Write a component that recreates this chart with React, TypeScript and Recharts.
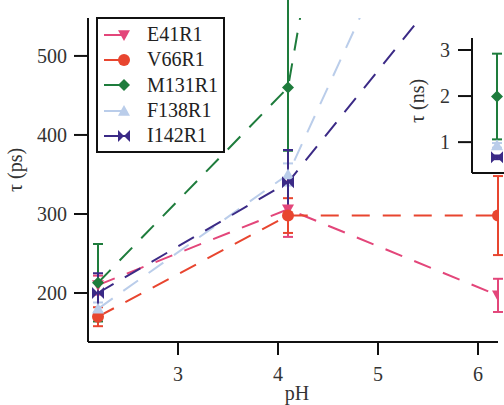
import React from 'react';
import { LineChart, Line, XAxis, YAxis, ErrorBar, Legend, Label } from 'recharts';

// pH of each measurement
const phValues = [2.2, 4.1, 6.2];

// lifetimes in ps, with error bars ([low, high] where they differ)
const e41 = [210, 306, 197];
const e41Err = [12, 35, 21];
const v66 = [170, 298, 298];
const v66Err = [12, 22, 50];
const m131 = [213, 460, 1990];
const m131Err: [number, number][] = [[49, 49], [80, 170], [930, 930]];
const f138 = [180, 350, 930];
const f138Err = [8, 14, 50];
const i142 = [200, 340, 670];
const i142Err = [25, 41, 40];

const mainTicksX = [3, 4, 5, 6];
const mainTicksY = [200, 300, 400, 500];
const insetTicksY = [1, 2, 3];

const FONT = '"Liberation Serif", "Times New Roman", serif';

type Shape = 'triDown' | 'circle' | 'diamond' | 'triUp' | 'bowtie';
type Err = number | [number, number];

const series: { key: string; name: string; color: string; shape: Shape; values: number[]; err: Err[] }[] = [
  { key: 'e41', name: 'E41R1', color: '#E3467A', shape: 'triDown', values: e41, err: e41Err },
  { key: 'v66', name: 'V66R1', color: '#E8452F', shape: 'circle', values: v66, err: v66Err },
  { key: 'm131', name: 'M131R1', color: '#1E7C3C', shape: 'diamond', values: m131, err: m131Err },
  { key: 'f138', name: 'F138R1', color: '#BACDEA', shape: 'triUp', values: f138, err: f138Err },
  { key: 'i142', name: 'I142R1', color: '#3B2A86', shape: 'bowtie', values: i142, err: i142Err },
];

const mainData = phValues.map((ph, i) => {
  const row: Record<string, any> = { ph };
  series.forEach((s) => {
    row[s.key] = s.values[i];
    row[s.key + 'Err'] = s.err[i];
  });
  return row;
});

const toNs = (e: Err): Err => (Array.isArray(e) ? [e[0] / 1000, e[1] / 1000] : e / 1000);

// inset: the pH 6.2 points of the slow series, in ns
const insetKeys = ['m131', 'f138', 'i142'];
const last = phValues.length - 1;
const insetData = [
  insetKeys.reduce(
    (row, k) => {
      const s = series.find((x) => x.key === k)!;
      row[k] = s.values[last] / 1000;
      row[k + 'Err'] = toNs(s.err[last]);
      return row;
    },
    { ph: phValues[last] } as Record<string, any>
  ),
];

function Marker({ shape, cx, cy, color }: { shape: Shape; cx: number; cy: number; color: string }) {
  const s = 6;
  switch (shape) {
    case 'triDown':
      return <polygon points={`${cx - s},${cy - s * 0.8} ${cx + s},${cy - s * 0.8} ${cx},${cy + s}`} fill={color} />;
    case 'triUp':
      return <polygon points={`${cx - s},${cy + s * 0.8} ${cx + s},${cy + s * 0.8} ${cx},${cy - s}`} fill={color} />;
    case 'circle':
      return <circle cx={cx} cy={cy} r={s} fill={color} />;
    case 'diamond':
      return <polygon points={`${cx},${cy - s} ${cx + s},${cy} ${cx},${cy + s} ${cx - s},${cy}`} fill={color} />;
    default:
      return (
        <g fill={color}>
          <polygon points={`${cx - s},${cy - s} ${cx},${cy} ${cx - s},${cy + s}`} />
          <polygon points={`${cx + s},${cy - s} ${cx},${cy} ${cx + s},${cy + s}`} />
        </g>
      );
  }
}

const dotFor = (shape: Shape, color: string, key: string) => (props: any) => {
  const { cx, cy, index } = props;
  if (cx == null || cy == null) return <g key={`${key}-${index}`} />;
  return (
    <g key={`${key}-${index}`}>
      <Marker shape={shape} cx={cx} cy={cy} color={color} />
    </g>
  );
};

function LegendBox() {
  return (
    <div
      style={{
        boxSizing: 'border-box',
        width: 129,
        border: '2px solid #111',
        background: '#fff',
        padding: '3px 0 3px 6px',
        fontFamily: FONT,
        fontSize: 20,
        color: '#222',
      }}
    >
      {series.map((s) => (
        <div key={s.key} style={{ display: 'flex', alignItems: 'center', height: 25.3 }}>
          <svg width={34} height={20} style={{ display: 'block' }}>
            <line x1={0} y1={10} x2={22} y2={10} stroke={s.color} strokeWidth={2} />
            <Marker shape={s.shape} cx={20} cy={10} color={s.color} />
          </svg>
          <span style={{ marginLeft: 9 }}>{s.name}</span>
        </div>
      ))}
    </div>
  );
}

const axisStroke = { stroke: '#111', strokeWidth: 2 };
const tickStyle = { fontSize: 20, fill: '#333', fontFamily: FONT };

export default function App() {
  return (
    <div style={{ position: 'fixed', left: 0, top: 0, width: 504, height: 405, overflow: 'hidden', background: '#fff' }}>
      <LineChart width={504} height={405} data={mainData} margin={{ top: 18, right: 6, bottom: 0, left: 0 }} style={{ fontFamily: FONT }}>
        <XAxis
          type="number"
          dataKey="ph"
          domain={[2.1, 6.2]}
          ticks={mainTicksX}
          allowDataOverflow
          height={63}
          tickSize={13}
          tickMargin={12}
          axisLine={axisStroke}
          tickLine={axisStroke}
          tick={tickStyle}
        >
          <Label value="pH" position="insideBottom" offset={5} dx={4} style={{ fontSize: 20, fill: '#333', fontFamily: FONT }} />
        </XAxis>
        <YAxis
          type="number"
          domain={[138, 548]}
          ticks={mainTicksY}
          allowDataOverflow
          width={88}
          tickSize={14}
          tickMargin={7}
          axisLine={axisStroke}
          tickLine={axisStroke}
          tick={tickStyle}
        >
          <Label
            content={() => (
              <text x={15} y={170} transform="rotate(-90 15 170)" textAnchor="middle" dominantBaseline="central" fontSize={20} fill="#333" fontFamily={FONT}>
                τ (ps)
              </text>
            )}
          />
        </YAxis>
        <Legend
          layout="vertical"
          align="center"
          verticalAlign="middle"
          wrapperStyle={{ left: 96, top: 17, width: 129 }}
          content={() => <LegendBox />}
        />
        {series.map((s) => (
          <Line
            key={s.key}
            dataKey={s.key}
            name={s.name}
            stroke={s.color}
            strokeWidth={2}
            strokeDasharray="18 13"
            dot={dotFor(s.shape, s.color, s.key)}
            activeDot={false}
            isAnimationActive={false}
          >
            <ErrorBar dataKey={s.key + 'Err'} direction="y" width={5} stroke={s.color} strokeWidth={2} />
          </Line>
        ))}
      </LineChart>

      <div style={{ position: 'absolute', left: 472, top: 38, width: 40, height: 135, background: '#fff' }} />
      <div style={{ position: 'absolute', left: 400, top: 20 }}>
        <LineChart width={122} height={180} data={insetData} margin={{ top: 18, right: 0, bottom: 0, left: 0 }} style={{ fontFamily: FONT }}>
          <XAxis type="number" dataKey="ph" domain={[5.95, 6.45]} allowDataOverflow height={27} tick={false} tickLine={false} axisLine={axisStroke} />
          <YAxis
            type="number"
            domain={[0.33, 3.26]}
            ticks={insetTicksY}
            allowDataOverflow
            width={72}
            tickSize={14}
            tickMargin={8}
            axisLine={axisStroke}
            tickLine={axisStroke}
            tick={tickStyle}
          >
            <Label
              content={() => (
                <text x={17} y={81} transform="rotate(-90 17 81)" textAnchor="middle" dominantBaseline="central" fontSize={20} fill="#333" fontFamily={FONT}>
                  τ (ns)
                </text>
              )}
            />
          </YAxis>
          {series
            .filter((s) => insetKeys.includes(s.key))
            .map((s) => (
              <Line
                key={s.key}
                dataKey={s.key}
                stroke={s.color}
                strokeWidth={2}
                dot={dotFor(s.shape, s.color, 'in-' + s.key)}
                activeDot={false}
                isAnimationActive={false}
              >
                <ErrorBar dataKey={s.key + 'Err'} direction="y" width={5} stroke={s.color} strokeWidth={2} />
              </Line>
            ))}
        </LineChart>
      </div>
    </div>
  );
}
